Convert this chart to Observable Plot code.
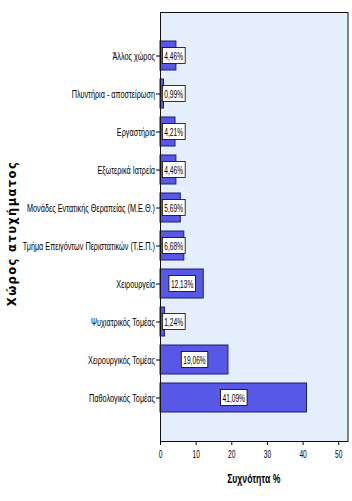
<!DOCTYPE html>
<html>
<head>
<meta charset="utf-8">
<script src="https://cdn.jsdelivr.net/npm/d3@7"></script>
<script src="https://cdn.jsdelivr.net/npm/@observablehq/plot@0.6"></script>
<style>
  html, body { margin: 0; padding: 0; background: #fff; }
  #chart svg { display: block; }
</style>
</head>
<body>
<div id="chart"></div>
<script>
const categories = [
  "Άλλος χώρος",
  "Πλυντήρια - αποστείρωση",
  "Εργαστήρια",
  "Εξωτερικά Ιατρεία",
  "Μονάδες Εντατικής Θεραπείας (Μ.Ε.Θ.)",
  "Τμήμα Επειγόντων Περιστατικών (Τ.Ε.Π.)",
  "Χειρουργεία",
  "Ψυχιατρικός Τομέας",
  "Χειρουργικός Τομέας",
  "Παθολογικός Τομέας"
];
const values = [4.46, 0.99, 4.21, 4.46, 5.69, 6.68, 12.13, 1.24, 19.06, 41.09];
const xTicks = [0, 10, 20, 30, 40, 50];
const xTitle = "Συχνότητα %";
const yTitle = "Χώρος ατυχήματος";

const data = categories.map((c, i) => ({category: c, value: values[i]}));
const fmt = v => v.toFixed(2).replace(".", ",") + "%";
const font = "'Liberation Sans', Arial, sans-serif";

const chart = Plot.plot({
  width: 352,
  height: 501,
  marginLeft: 160,
  marginRight: 4.5,
  marginTop: 12,
  marginBottom: 60,
  style: {fontFamily: font, fontSize: "10px", color: "#000", background: "#fff"},
  x: {domain: [0, 52.6], ticks: xTicks, tickSize: 4, label: null, tickFormat: d => d},
  y: {domain: categories, paddingInner: 0.25, paddingOuter: 0.68, tickSize: 4, label: null},
  marks: [
    Plot.frame({fill: "#e5effb", stroke: "none"}),
    Plot.barX(data, {x: "value", y: "category", fill: "#5858e6", stroke: "#1c1c70", strokeWidth: 1}),
    Plot.text(data, {
      x: d => Math.max(d.value / 2, 3.7),
      y: "category",
      text: d => fmt(d.value),
      fill: "#000",
      fontSize: 11,
      className: "vlabel"
    }),
    Plot.frame({stroke: "#111", strokeWidth: 1}),
    Plot.axisX({ticks: xTicks, tickSize: 4, fontSize: 11, tickPadding: 5, label: null, className: "xax"}),
    Plot.axisY({tickSize: 4, fontSize: 11, tickPadding: 1.5, label: null, className: "yax"})
  ]
});

document.getElementById("chart").appendChild(chart);
const svg = d3.select(chart);

function squeeze(sel, k) {
  sel.each(function() {
    const len = this.getComputedTextLength();
    this.setAttribute("textLength", len * k);
    this.setAttribute("lengthAdjust", "spacingAndGlyphs");
  });
}

squeeze(svg.selectAll("g.yax text"), 0.66);
squeeze(svg.selectAll("g.xax text"), 0.6);
squeeze(svg.selectAll("g.vlabel text"), 0.6);

// White boxes behind value labels
svg.selectAll("g.vlabel text").each(function() {
  const b = this.getBBox();
  const t = this.getAttribute("transform");
  const r = document.createElementNS("http://www.w3.org/2000/svg", "rect");
  r.setAttribute("x", b.x - 2);
  r.setAttribute("y", b.y + b.height / 2 - 8);
  r.setAttribute("width", b.width + 4);
  r.setAttribute("height", 16);
  r.setAttribute("fill", "#fff");
  r.setAttribute("stroke", "#000");
  r.setAttribute("stroke-width", "0.8");
  if (t) r.setAttribute("transform", t);
  this.parentNode.insertBefore(r, this);
});

// Axis titles
const xt = svg.append("text")
  .attr("x", (160 + 347.5) / 2)
  .attr("y", 483)
  .attr("text-anchor", "middle")
  .attr("font-weight", "bold")
  .attr("font-size", 13.5)
  .attr("font-family", font)
  .text(xTitle);
squeeze(xt, 0.64);
svg.append("text")
  .attr("transform", "translate(16," + ((12 + 441) / 2 + 7) + ") rotate(-90)")
  .attr("text-anchor", "middle")
  .attr("font-weight", "bold")
  .attr("font-size", 11.5)
  .attr("letter-spacing", "1.4px")
  .attr("font-family", "'DejaVu Sans', sans-serif")
  .text(yTitle);
</script>
</body>
</html>
